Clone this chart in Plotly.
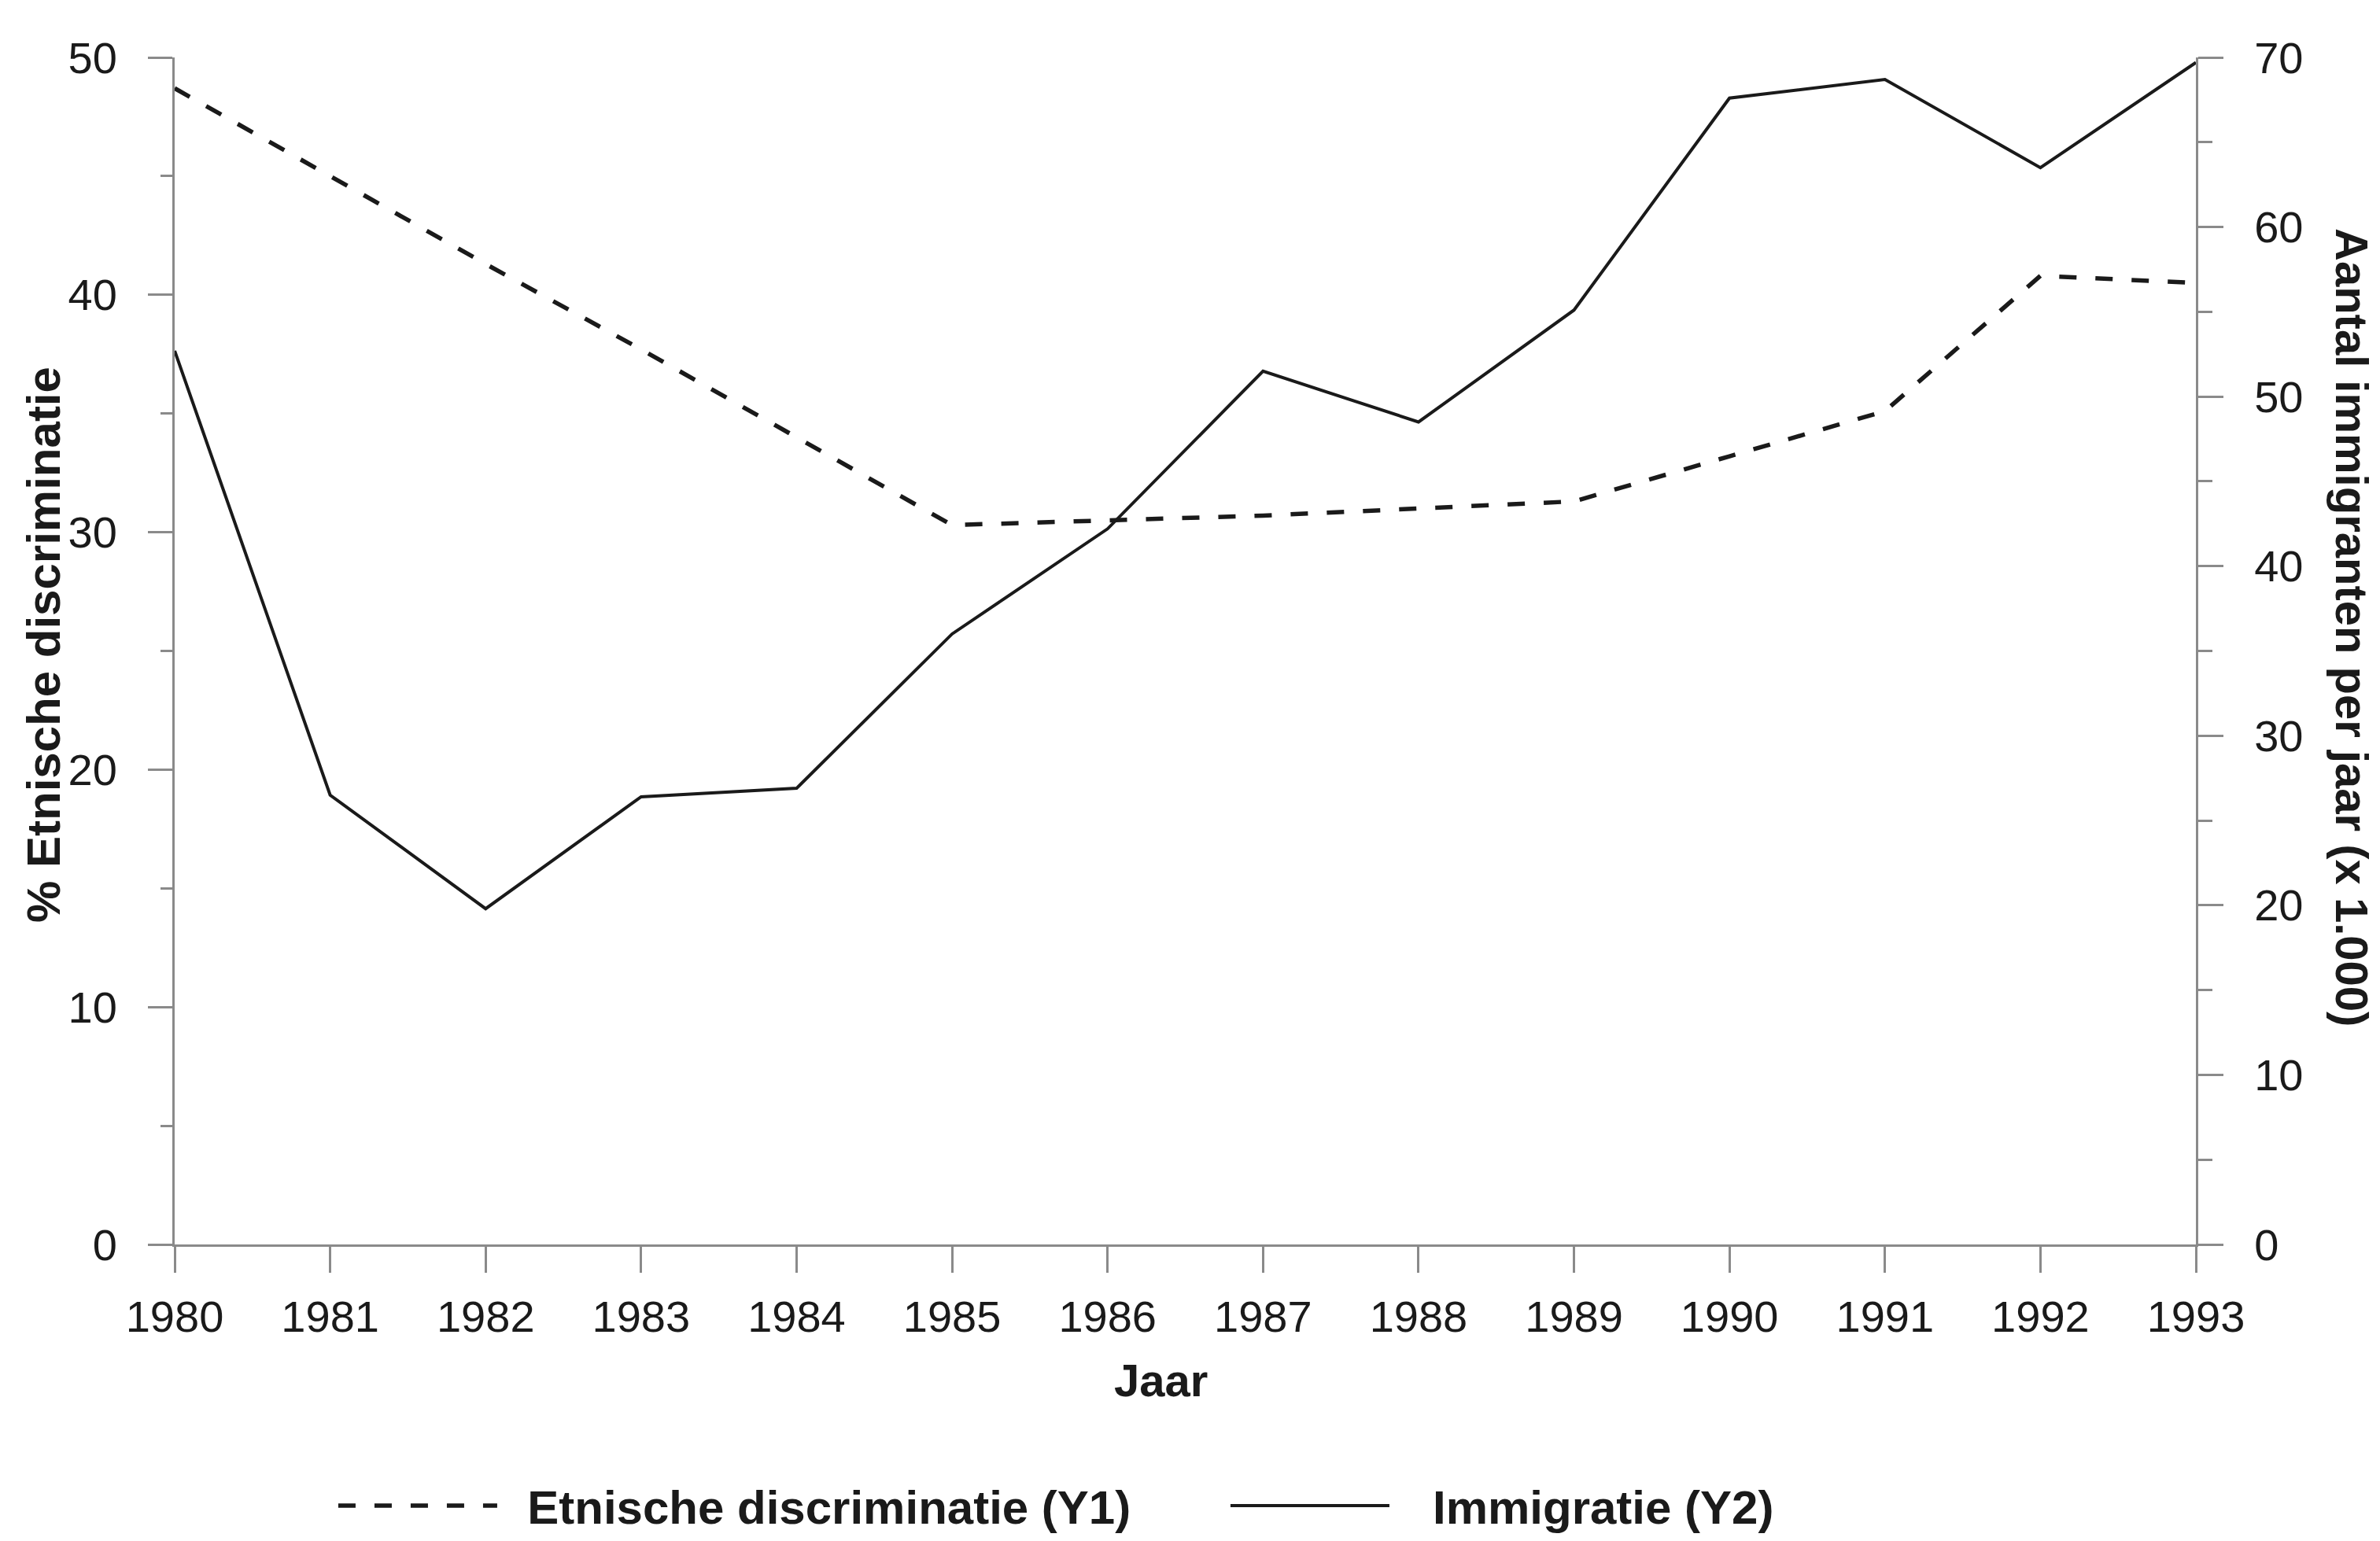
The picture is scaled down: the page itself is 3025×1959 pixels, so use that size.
import plotly.graph_objects as go

years = [1980, 1981, 1982, 1983, 1984, 1985, 1986, 1987, 1988, 1989, 1990, 1991, 1992, 1993]
discriminatie = [48.7, 45.0, 41.3, 37.7, 34.0, 30.3, 30.5, 30.7, 31.0, 31.3, 33.2, 35.1, 40.8, 40.5]
immigratie = [52.7, 26.5, 19.8, 26.4, 26.9, 36.0, 42.2, 51.5, 48.5, 55.1, 67.6, 68.7, 63.5, 69.7]

name_y1 = "Etnische discriminatie (Y1)"
name_y2 = "Immigratie (Y2)"
title_x = "Jaar"
title_y1 = "% Etnische discriminatie"
title_y2 = "Aantal immigranten per jaar (x 1.000)"

FONT = "Liberation Sans, Arial, Helvetica, sans-serif"
AXIS_GRAY = "#8a8a8a"
INK = "#1a1a1a"
NB = "\u00a0"  # small gap between legend line sample and its label

fig = go.Figure()
fig.add_trace(go.Scatter(
    x=years, y=discriminatie, name=NB * 2 + name_y1, mode="lines", yaxis="y",
    line=dict(color=INK, width=5.5, dash="22px,24px"),
))
fig.add_trace(go.Scatter(
    x=years, y=immigratie, name=NB * 3 + name_y2, mode="lines", yaxis="y2",
    line=dict(color=INK, width=4),
))

title_font = dict(family=FONT, size=58, weight="bold", color=INK)

# the page body adds an 8px margin, so the figure is 8px smaller than the window
fig.update_layout(
    width=3017, height=1951, autosize=False,
    margin=dict(l=214, r=234, t=65, b=377, pad=0, autoexpand=False),
    paper_bgcolor="white", plot_bgcolor="white",
    font=dict(family=FONT, size=56, color=INK),
    xaxis=dict(
        range=[1980, 1993], tickmode="array", tickvals=years,
        ticktext=[str(y) for y in years],
        showline=True, linecolor=AXIS_GRAY, linewidth=3,
        ticks="outside", ticklen=33, tickwidth=3, tickcolor=AXIS_GRAY,
        ticklabelstandoff=8,
        showgrid=False, zeroline=False, automargin=False,
    ),
    yaxis=dict(
        range=[0, 50], dtick=10, tick0=0,
        showline=True, linecolor=AXIS_GRAY, linewidth=3,
        ticks="outside", ticklen=31, tickwidth=3, tickcolor=AXIS_GRAY,
        minor=dict(dtick=5, ticks="outside", ticklen=15, tickwidth=3, tickcolor=AXIS_GRAY),
        ticklabelstandoff=28,
        showgrid=False, zeroline=False, automargin=False,
    ),
    yaxis2=dict(
        range=[0, 70], dtick=10, tick0=0, overlaying="y", side="right",
        showline=True, linecolor=AXIS_GRAY, linewidth=3,
        ticks="outside", ticklen=32, tickwidth=3, tickcolor=AXIS_GRAY,
        minor=dict(dtick=5, ticks="outside", ticklen=18, tickwidth=3, tickcolor=AXIS_GRAY),
        ticklabelstandoff=28,
        showgrid=False, zeroline=False, automargin=False,
    ),
    legend=dict(
        orientation="h", x=0.079, xanchor="left", y=-0.220, yanchor="middle",
        itemwidth=202, entrywidth=917, entrywidthmode="pixels",
        font=dict(family=FONT, size=60, weight="bold", color=INK),
        bgcolor="rgba(0,0,0,0)",
    ),
    annotations=[
        dict(text=title_x, xref="paper", yref="paper", x=0.488, y=-0.1146,
             xanchor="center", yanchor="middle", showarrow=False, font=title_font),
        dict(text=title_y1, xref="paper", yref="paper", x=-0.0646, y=0.505,
             xanchor="center", yanchor="middle", textangle=-90, showarrow=False,
             font=dict(family=FONT, size=60, weight="bold", color=INK)),
        dict(text=title_y2, xref="paper", yref="paper", x=1.0772, y=0.52,
             xanchor="center", yanchor="middle", textangle=90, showarrow=False,
             font=title_font),
    ],
)

fig.write_html("out.html")
